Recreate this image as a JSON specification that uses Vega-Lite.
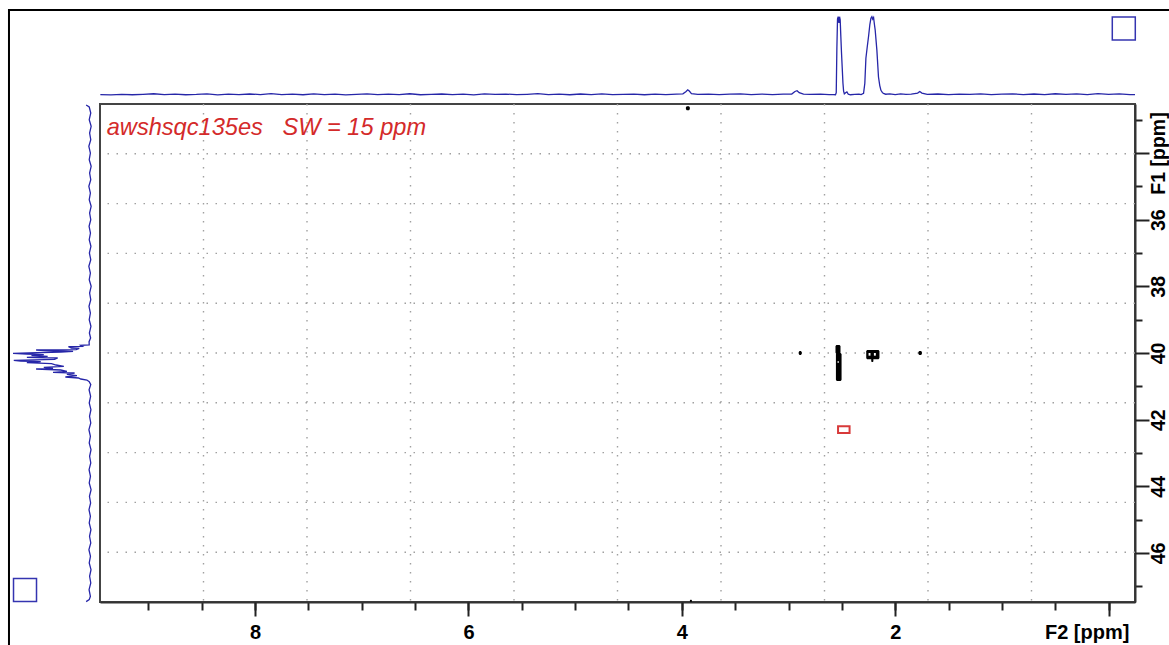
{
  "$schema": "https://vega.github.io/schema/vega-lite/v6.json",
  "width": 1035,
  "height": 498,
  "autosize": {"type": "none"},
  "padding": {"left": 100, "top": 104, "right": 34, "bottom": 43},
  "background": "white",
  "config": {
    "view": {"stroke": "#444444", "strokeWidth": 2},
    "axis": {"title": null}
  },
  "datasets": {
    "top": [
      {"f2": 9.45, "v": 0.5}, {"f2": 9.35, "v": 0.2}, {"f2": 9.25, "v": 0.9}, {"f2": 9.15, "v": 0.3}, {"f2": 9.05, "v": 0.8},
      {"f2": 8.95, "v": 1.6}, {"f2": 8.85, "v": 0.4}, {"f2": 8.75, "v": 1.2}, {"f2": 8.65, "v": 0.3}, {"f2": 8.55, "v": 0.7},
      {"f2": 8.45, "v": 1.5}, {"f2": 8.35, "v": 0.2}, {"f2": 8.25, "v": 1.1}, {"f2": 8.15, "v": 0.4}, {"f2": 8.05, "v": 1.3},
      {"f2": 7.95, "v": 0.6}, {"f2": 7.85, "v": 1.8}, {"f2": 7.75, "v": 0.5}, {"f2": 7.65, "v": 1.0}, {"f2": 7.55, "v": 0.3},
      {"f2": 7.45, "v": 1.4}, {"f2": 7.35, "v": 0.6}, {"f2": 7.25, "v": 1.2}, {"f2": 7.15, "v": 0.2}, {"f2": 7.05, "v": 0.9},
      {"f2": 6.95, "v": 1.5}, {"f2": 6.85, "v": 0.4}, {"f2": 6.75, "v": 1.1}, {"f2": 6.65, "v": 0.6}, {"f2": 6.55, "v": 1.6},
      {"f2": 6.45, "v": 0.3}, {"f2": 6.35, "v": 0.8}, {"f2": 6.25, "v": 1.3}, {"f2": 6.15, "v": 0.5}, {"f2": 6.05, "v": 1.0},
      {"f2": 5.95, "v": 0.2}, {"f2": 5.85, "v": 1.4}, {"f2": 5.75, "v": 0.7}, {"f2": 5.65, "v": 1.2}, {"f2": 5.55, "v": 0.4},
      {"f2": 5.45, "v": 0.9}, {"f2": 5.35, "v": 1.7}, {"f2": 5.25, "v": 0.5}, {"f2": 5.15, "v": 1.1}, {"f2": 5.05, "v": 0.3},
      {"f2": 4.95, "v": 1.3}, {"f2": 4.85, "v": 0.6}, {"f2": 4.75, "v": 1.5}, {"f2": 4.65, "v": 0.4}, {"f2": 4.55, "v": 0.8},
      {"f2": 4.45, "v": 1.2}, {"f2": 4.35, "v": 0.3}, {"f2": 4.25, "v": 1.0}, {"f2": 4.15, "v": 0.6}, {"f2": 4.05, "v": 1.1},
      {"f2": 3.99, "v": 1.5}, {"f2": 3.96, "v": 4.5}, {"f2": 3.945, "v": 6.5}, {"f2": 3.93, "v": 5.0}, {"f2": 3.91, "v": 1.8},
      {"f2": 3.85, "v": 0.7}, {"f2": 3.75, "v": 1.2}, {"f2": 3.65, "v": 0.4}, {"f2": 3.55, "v": 1.0}, {"f2": 3.45, "v": 1.5},
      {"f2": 3.35, "v": 0.5}, {"f2": 3.25, "v": 1.2}, {"f2": 3.15, "v": 0.6}, {"f2": 3.05, "v": 1.0}, {"f2": 2.97, "v": 1.2},
      {"f2": 2.94, "v": 4.5}, {"f2": 2.92, "v": 5.5}, {"f2": 2.9, "v": 3.0}, {"f2": 2.86, "v": 1.0}, {"f2": 2.8, "v": 0.8},
      {"f2": 2.7, "v": 1.1}, {"f2": 2.62, "v": 0.6}, {"f2": 2.58, "v": 0.5}, {"f2": 2.56, "v": 0.3},
      {"f2": 2.553, "v": 3}, {"f2": 2.547, "v": 60}, {"f2": 2.541, "v": 97}, {"f2": 2.535, "v": 100}, {"f2": 2.528, "v": 92},
      {"f2": 2.522, "v": 100}, {"f2": 2.516, "v": 96}, {"f2": 2.51, "v": 75}, {"f2": 2.504, "v": 55}, {"f2": 2.497, "v": 35},
      {"f2": 2.49, "v": 15}, {"f2": 2.484, "v": 5}, {"f2": 2.477, "v": 1.5}, {"f2": 2.465, "v": 3}, {"f2": 2.453, "v": 4},
      {"f2": 2.44, "v": 1}, {"f2": 2.42, "v": 0.3}, {"f2": 2.38, "v": 0.8}, {"f2": 2.34, "v": 1.2}, {"f2": 2.32, "v": 0.5},
      {"f2": 2.297, "v": 2}, {"f2": 2.285, "v": 15}, {"f2": 2.275, "v": 47}, {"f2": 2.262, "v": 62}, {"f2": 2.25, "v": 75},
      {"f2": 2.238, "v": 90}, {"f2": 2.228, "v": 98}, {"f2": 2.219, "v": 100}, {"f2": 2.211, "v": 97}, {"f2": 2.203, "v": 99},
      {"f2": 2.195, "v": 90}, {"f2": 2.188, "v": 83}, {"f2": 2.172, "v": 57}, {"f2": 2.157, "v": 23}, {"f2": 2.145, "v": 12},
      {"f2": 2.134, "v": 6}, {"f2": 2.12, "v": 3}, {"f2": 2.11, "v": 2}, {"f2": 2.09, "v": 1}, {"f2": 2.05, "v": 1.5},
      {"f2": 2.0, "v": 0.6}, {"f2": 1.95, "v": 1.4}, {"f2": 1.9, "v": 0.9}, {"f2": 1.85, "v": 1.2}, {"f2": 1.79, "v": 2.5},
      {"f2": 1.77, "v": 4.5}, {"f2": 1.75, "v": 2.5}, {"f2": 1.7, "v": 0.8}, {"f2": 1.6, "v": 1.3}, {"f2": 1.5, "v": 0.5},
      {"f2": 1.4, "v": 1.1}, {"f2": 1.3, "v": 0.7}, {"f2": 1.2, "v": 1.4}, {"f2": 1.1, "v": 0.4}, {"f2": 1.0, "v": 1.0},
      {"f2": 0.9, "v": 1.5}, {"f2": 0.8, "v": 0.6}, {"f2": 0.7, "v": 1.3}, {"f2": 0.6, "v": 0.5}, {"f2": 0.5, "v": 1.6},
      {"f2": 0.4, "v": 0.8}, {"f2": 0.3, "v": 1.4}, {"f2": 0.2, "v": 0.6}, {"f2": 0.1, "v": 1.8}, {"f2": 0.0, "v": 0.9},
      {"f2": -0.1, "v": 1.5}, {"f2": -0.2, "v": 0.6}, {"f2": -0.247, "v": 0.4}
    ],
    "left": [
      {"i": 1, "f1": 32.56, "v": 5}, {"i": 2, "f1": 32.62, "v": 1}, {"i": 3, "f1": 32.8, "v": -1}, {"i": 4, "f1": 33.0, "v": 1},
      {"i": 5, "f1": 33.2, "v": -1.5}, {"i": 6, "f1": 33.4, "v": 0.5}, {"i": 7, "f1": 33.6, "v": -1}, {"i": 8, "f1": 33.8, "v": 1.5},
      {"i": 9, "f1": 34.0, "v": -0.5}, {"i": 10, "f1": 34.2, "v": 1}, {"i": 11, "f1": 34.4, "v": -1.5}, {"i": 12, "f1": 34.6, "v": 0.5},
      {"i": 13, "f1": 34.8, "v": -1}, {"i": 14, "f1": 35.0, "v": 1.5}, {"i": 15, "f1": 35.2, "v": -0.5}, {"i": 16, "f1": 35.4, "v": 1},
      {"i": 17, "f1": 35.6, "v": -1.5}, {"i": 18, "f1": 35.8, "v": 0.5}, {"i": 19, "f1": 36.0, "v": -1}, {"i": 20, "f1": 36.2, "v": 1.2},
      {"i": 21, "f1": 36.4, "v": -0.6}, {"i": 22, "f1": 36.6, "v": 1}, {"i": 23, "f1": 36.8, "v": -1.2}, {"i": 24, "f1": 37.0, "v": 0.8},
      {"i": 25, "f1": 37.2, "v": -1}, {"i": 26, "f1": 37.4, "v": 1.5}, {"i": 27, "f1": 37.6, "v": -0.5}, {"i": 28, "f1": 37.8, "v": 1},
      {"i": 29, "f1": 38.0, "v": -1.5}, {"i": 30, "f1": 38.2, "v": 0.5}, {"i": 31, "f1": 38.4, "v": -1}, {"i": 32, "f1": 38.6, "v": 1.3},
      {"i": 33, "f1": 38.8, "v": -0.5}, {"i": 34, "f1": 39.0, "v": 1}, {"i": 35, "f1": 39.2, "v": -1.2}, {"i": 36, "f1": 39.4, "v": 0.8},
      {"i": 37, "f1": 39.55, "v": -0.8}, {"i": 38, "f1": 39.66, "v": 1.2}, {"i": 39, "f1": 39.76, "v": 1}, {"i": 40, "f1": 39.77, "v": 12},
      {"i": 41, "f1": 39.8, "v": 10}, {"i": 42, "f1": 39.81, "v": 28}, {"i": 43, "f1": 39.85, "v": 24}, {"i": 44, "f1": 39.86, "v": 14},
      {"i": 45, "f1": 39.9, "v": 18}, {"i": 46, "f1": 39.91, "v": 70}, {"i": 47, "f1": 39.93, "v": 58}, {"i": 48, "f1": 39.95, "v": 22},
      {"i": 49, "f1": 39.97, "v": 38}, {"i": 50, "f1": 40.01, "v": 100}, {"i": 51, "f1": 40.03, "v": 82}, {"i": 52, "f1": 40.05, "v": 60},
      {"i": 53, "f1": 40.07, "v": 76}, {"i": 54, "f1": 40.1, "v": 55}, {"i": 55, "f1": 40.13, "v": 82}, {"i": 56, "f1": 40.15, "v": 42},
      {"i": 57, "f1": 40.19, "v": 46}, {"i": 58, "f1": 40.22, "v": 99}, {"i": 59, "f1": 40.24, "v": 90}, {"i": 60, "f1": 40.26, "v": 64},
      {"i": 61, "f1": 40.29, "v": 82}, {"i": 62, "f1": 40.32, "v": 50}, {"i": 63, "f1": 40.36, "v": 44}, {"i": 64, "f1": 40.4, "v": 34},
      {"i": 65, "f1": 40.43, "v": 60}, {"i": 66, "f1": 40.46, "v": 48}, {"i": 67, "f1": 40.48, "v": 70}, {"i": 68, "f1": 40.51, "v": 38},
      {"i": 69, "f1": 40.55, "v": 30}, {"i": 70, "f1": 40.58, "v": 48}, {"i": 71, "f1": 40.6, "v": 20}, {"i": 72, "f1": 40.64, "v": 30},
      {"i": 73, "f1": 40.68, "v": 17}, {"i": 74, "f1": 40.72, "v": 32}, {"i": 75, "f1": 40.75, "v": 15}, {"i": 76, "f1": 40.78, "v": 12},
      {"i": 77, "f1": 40.81, "v": 4}, {"i": 78, "f1": 40.86, "v": 1}, {"i": 79, "f1": 40.95, "v": -1}, {"i": 80, "f1": 41.1, "v": 1.2},
      {"i": 81, "f1": 41.3, "v": -0.8}, {"i": 82, "f1": 41.5, "v": 1}, {"i": 83, "f1": 41.7, "v": -1.2}, {"i": 84, "f1": 41.9, "v": 0.6},
      {"i": 85, "f1": 42.1, "v": -1}, {"i": 86, "f1": 42.3, "v": 1.4}, {"i": 87, "f1": 42.5, "v": -0.5}, {"i": 88, "f1": 42.7, "v": 1},
      {"i": 89, "f1": 42.9, "v": -1.3}, {"i": 90, "f1": 43.1, "v": 0.5}, {"i": 91, "f1": 43.3, "v": -1}, {"i": 92, "f1": 43.5, "v": 1.2},
      {"i": 93, "f1": 43.7, "v": -0.6}, {"i": 94, "f1": 43.9, "v": 1}, {"i": 95, "f1": 44.1, "v": -1.4}, {"i": 96, "f1": 44.3, "v": 0.7},
      {"i": 97, "f1": 44.5, "v": -0.8}, {"i": 98, "f1": 44.7, "v": 1.3}, {"i": 99, "f1": 44.9, "v": -0.5}, {"i": 100, "f1": 45.1, "v": 1},
      {"i": 101, "f1": 45.3, "v": -1.2}, {"i": 102, "f1": 45.5, "v": 0.6}, {"i": 103, "f1": 45.7, "v": -1}, {"i": 104, "f1": 45.9, "v": 1.4},
      {"i": 105, "f1": 46.1, "v": -0.6}, {"i": 106, "f1": 46.3, "v": 1}, {"i": 107, "f1": 46.5, "v": -1.3}, {"i": 108, "f1": 46.7, "v": 0.5},
      {"i": 109, "f1": 46.9, "v": -1}, {"i": 110, "f1": 47.1, "v": 1.2}, {"i": 111, "f1": 47.3, "v": -0.5}, {"i": 112, "f1": 47.4, "v": 1},
      {"i": 113, "f1": 47.46, "v": 5}
    ],
    "gridx": [{"f2": 8.483}, {"f2": 7.513}, {"f2": 6.543}, {"f2": 5.573}, {"f2": 4.603}, {"f2": 3.633}, {"f2": 2.663}, {"f2": 1.693}, {"f2": 0.723}],
    "gridy": [{"f1": 34.024}, {"f1": 35.518}, {"f1": 37.012}, {"f1": 38.506}, {"f1": 40.0}, {"f1": 41.494}, {"f1": 42.988}, {"f1": 44.482}, {"f1": 45.976}],
    "frame": [{"f2a": 10.306, "f2b": -1.5, "f1a": 29.71, "f1b": 52}],
    "black": [
      {"f2a": 2.905, "f2b": 2.876, "f1a": 39.94, "f1b": 40.06},
      {"f2a": 2.56, "f2b": 2.513, "f1a": 39.76, "f1b": 40.03},
      {"f2a": 2.556, "f2b": 2.503, "f1a": 40.0, "f1b": 40.84},
      {"f2a": 2.272, "f2b": 2.148, "f1a": 39.91, "f1b": 40.19},
      {"f2a": 2.225, "f2b": 2.205, "f1a": 40.15, "f1b": 40.27},
      {"f2a": 1.783, "f2b": 1.75, "f1a": 39.94, "f1b": 40.06},
      {"f2a": 3.962, "f2b": 3.925, "f1a": 32.6, "f1b": 32.72},
      {"f2a": 3.925, "f2b": 3.905, "f1a": 47.4, "f1b": 47.47}
    ],
    "holes": [
      {"f2a": 2.25, "f2b": 2.232, "f1a": 40.0, "f1b": 40.08},
      {"f2a": 2.2, "f2b": 2.182, "f1a": 40.0, "f1b": 40.08},
      {"f2a": 2.54, "f2b": 2.53, "f1a": 40.24, "f1b": 40.3}
    ],
    "red": [{"f2a": 2.536, "f2b": 2.428, "f1a": 42.2, "f1b": 42.4}],
    "note": [{"f2": 9.39, "f1": 33.47, "label": "awshsqc135es\u00a0\u00a0\u00a0SW = 15 ppm"}],
    "boxTop": [{"f2": -0.142, "v": 84.9}],
    "boxLeft": [{"f1": 47.11, "v": 84.4}]
  },
  "layer": [
    {
      "layer": [
        {
          "data": {"name": "gridx"},
          "mark": {"type": "rule", "color": "#a0a0a0", "strokeWidth": 1.4, "strokeDash": [1.5, 7.5]},
          "encoding": {
            "x": {
              "field": "f2", "type": "quantitative",
              "scale": {"domain": [9.453, -0.247], "nice": false, "zero": false},
              "axis": {
                "orient": "bottom",
                "values": [9, 8.5, 8, 7.5, 7, 6.5, 6, 5.5, 5, 4.5, 4, 3.5, 3, 2.5, 2, 1.5, 1, 0.5, 0],
                "grid": false, "labels": false,
                "domainColor": "#333333", "domainWidth": 2,
                "tickColor": "#222222", "tickWidth": 2, "tickSize": 8
              }
            }
          }
        },
        {
          "data": {"name": "gridy"},
          "mark": {"type": "rule", "color": "#a0a0a0", "strokeWidth": 1.4, "strokeDash": [1.5, 7.5]},
          "encoding": {
            "y": {
              "field": "f1", "type": "quantitative",
              "scale": {"domain": [47.47, 32.53], "nice": false, "zero": false},
              "axis": {
                "orient": "right",
                "values": [33, 33.5, 34, 34.5, 35, 35.5, 36, 36.5, 37, 37.5, 38, 38.5, 39, 39.5, 40, 40.5, 41, 41.5, 42, 42.5, 43, 43.5, 44, 44.5, 45, 45.5, 46, 46.5, 47],
                "grid": false, "labels": false,
                "domainColor": "#333333", "domainWidth": 2,
                "tickColor": "#222222", "tickWidth": 2, "tickSize": 7
              }
            }
          }
        },
        {
          "data": {"name": "frame"},
          "mark": {"type": "rect", "fill": null, "fillOpacity": 0, "stroke": "#000000", "strokeWidth": 2},
          "encoding": {
            "x": {"field": "f2a", "type": "quantitative", "scale": {"domain": [9.453, -0.247], "nice": false, "zero": false}},
            "x2": {"field": "f2b"},
            "y": {"field": "f1a", "type": "quantitative", "scale": {"domain": [47.47, 32.53], "nice": false, "zero": false}},
            "y2": {"field": "f1b"}
          }
        },
        {
          "data": {"name": "black"},
          "mark": {"type": "rect", "color": "#000000", "cornerRadius": 1.5},
          "encoding": {
            "x": {"field": "f2a", "type": "quantitative", "scale": {"domain": [9.453, -0.247], "nice": false, "zero": false}},
            "x2": {"field": "f2b"},
            "y": {"field": "f1a", "type": "quantitative", "scale": {"domain": [47.47, 32.53], "nice": false, "zero": false}},
            "y2": {"field": "f1b"}
          }
        },
        {
          "data": {"name": "holes"},
          "mark": {"type": "rect", "color": "#ffffff"},
          "encoding": {
            "x": {"field": "f2a", "type": "quantitative", "scale": {"domain": [9.453, -0.247], "nice": false, "zero": false}},
            "x2": {"field": "f2b"},
            "y": {"field": "f1a", "type": "quantitative", "scale": {"domain": [47.47, 32.53], "nice": false, "zero": false}},
            "y2": {"field": "f1b"}
          }
        },
        {
          "data": {"name": "red"},
          "mark": {"type": "rect", "fill": "#ffffff", "stroke": "#d83a3a", "strokeWidth": 2},
          "encoding": {
            "x": {"field": "f2a", "type": "quantitative", "scale": {"domain": [9.453, -0.247], "nice": false, "zero": false}},
            "x2": {"field": "f2b"},
            "y": {"field": "f1a", "type": "quantitative", "scale": {"domain": [47.47, 32.53], "nice": false, "zero": false}},
            "y2": {"field": "f1b"}
          }
        },
        {
          "data": {"name": "note"},
          "mark": {"type": "text", "align": "left", "baseline": "alphabetic", "font": "Liberation Sans", "fontSize": 23.6, "fontStyle": "italic", "color": "#d42a2a"},
          "encoding": {
            "x": {"field": "f2", "type": "quantitative", "scale": {"domain": [9.453, -0.247], "nice": false, "zero": false}},
            "y": {"field": "f1", "type": "quantitative", "scale": {"domain": [47.47, 32.53], "nice": false, "zero": false}},
            "text": {"field": "label"}
          }
        }
      ]
    },
    {
      "layer": [
        {
          "data": {"name": "top"},
          "mark": {"type": "line", "color": "#2626a8", "strokeWidth": 1.3},
          "encoding": {
            "x": {
              "field": "f2", "type": "quantitative",
              "scale": {"domain": [9.453, -0.247], "nice": false, "zero": false},
              "axis": {
                "orient": "bottom",
                "values": [8, 6, 4, 2, 0],
                "grid": false, "domain": false,
                "tickColor": "#222222", "tickWidth": 2, "tickSize": 14,
                "labelExpr": "datum.value === 0 ? 'F2 [ppm]' : '' + datum.value",
                "labelOffset": {"condition": {"test": "datum.value === 0", "value": -22}, "value": 0},
                "labelFont": "Liberation Sans", "labelFontSize": 20, "labelFontWeight": "bold", "labelColor": "#000000",
                "labelPadding": 6, "labelOverlap": false, "labelFlush": false, "labelBound": false
              }
            },
            "y": {"field": "v", "type": "quantitative", "scale": {"domain": [0, 100], "range": [-9, -87.3], "nice": false, "zero": false}, "axis": null}
          }
        },
        {
          "data": {"name": "boxTop"},
          "mark": {"type": "point", "shape": "square", "filled": false, "size": 529, "stroke": "#3434b0", "strokeWidth": 1.5, "opacity": 1},
          "encoding": {
            "x": {"field": "f2", "type": "quantitative", "scale": {"domain": [9.453, -0.247], "nice": false, "zero": false}},
            "y": {"field": "v", "type": "quantitative", "scale": {"domain": [0, 100], "range": [-9, -87.3], "nice": false, "zero": false}}
          }
        }
      ]
    },
    {
      "layer": [
        {
          "data": {"name": "left"},
          "mark": {"type": "line", "color": "#2626a8", "strokeWidth": 1.3},
          "encoding": {
            "y": {
              "field": "f1", "type": "quantitative",
              "scale": {"domain": [47.47, 32.53], "nice": false, "zero": false},
              "axis": {
                "orient": "right",
                "values": [34, 36, 38, 40, 42, 44, 46],
                "grid": false, "domain": false,
                "tickColor": "#222222", "tickWidth": 2, "tickSize": 14,
                "labelExpr": "datum.value === 34 ? 'F1 [ppm]' : '' + datum.value",
                "labelAngle": 270, "labelAlign": "center", "labelBaseline": "top",
                "labelFont": "Liberation Sans", "labelFontSize": 19.5, "labelFontWeight": "bold", "labelColor": "#000000",
                "labelPadding": 0, "labelOverlap": false, "labelFlush": false, "labelBound": false
              }
            },
            "x": {"field": "v", "type": "quantitative", "scale": {"domain": [0, 100], "range": [-10, -87], "nice": false, "zero": false}, "axis": null},
            "order": {"field": "i", "type": "quantitative"}
          }
        },
        {
          "data": {"name": "boxLeft"},
          "mark": {"type": "point", "shape": "square", "filled": false, "size": 529, "stroke": "#3434b0", "strokeWidth": 1.5, "opacity": 1},
          "encoding": {
            "y": {"field": "f1", "type": "quantitative", "scale": {"domain": [47.47, 32.53], "nice": false, "zero": false}},
            "x": {"field": "v", "type": "quantitative", "scale": {"domain": [0, 100], "range": [-10, -87], "nice": false, "zero": false}}
          }
        }
      ]
    }
  ],
  "resolve": {"scale": {"x": "independent", "y": "independent"}}
}
